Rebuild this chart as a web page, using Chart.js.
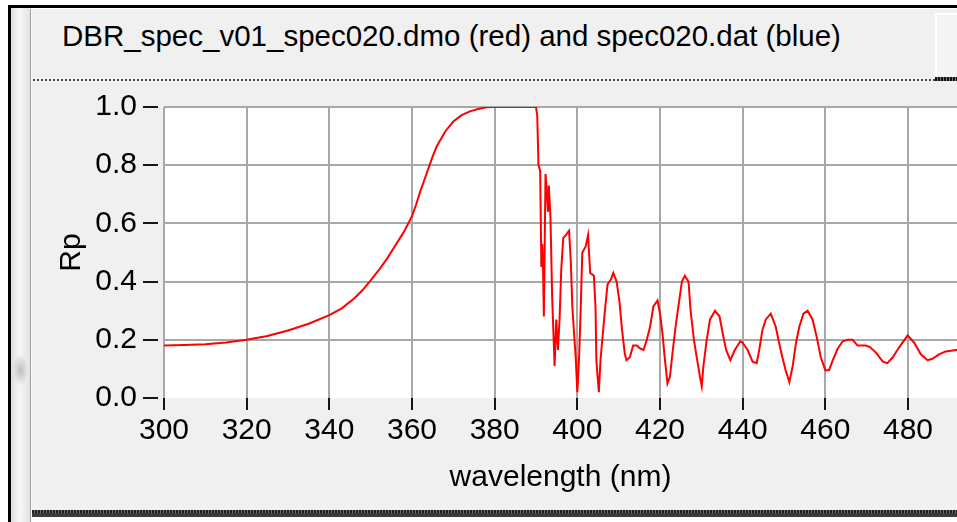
<!DOCTYPE html>
<html>
<head>
<meta charset="utf-8">
<script src="https://cdn.jsdelivr.net/npm/chart.js@4/dist/chart.umd.min.js"></script>
<style>
  html, body { margin:0; padding:0; }
  body { width:957px; height:522px; overflow:hidden; background:#fff; position:relative; font-family:'Liberation Sans', Arial, sans-serif; }
  .abs { position:absolute; }
  #topBlack { left:8px; top:5px; width:960px; height:3px; background:#000; }
  #leftBlack { left:8px; top:5px; width:3px; height:520px; background:#000; }
  #strip { left:11px; top:8px; width:19px; height:520px;
    background:linear-gradient(90deg,#dcdcdc 0%,#f6f6f6 45%,#e4e4e4 100%); }
  #stripGrip { left:13px; top:355px; width:15px; height:30px;
    background:radial-gradient(ellipse at center,#bdbdbd 0%,rgba(220,220,220,0) 75%); }
  #sepLine { left:30px; top:9px; width:1px; height:520px; background:#9c9c9c; }
  #sepLine2 { left:31px; top:9px; width:1px; height:520px; background:#fdfdfd; }
  #panel { left:32px; top:9px; width:930px; height:501px; background:#f0f0f0; }
  #dotted { left:33px; top:79px; width:902px; height:2px;
    background:repeating-linear-gradient(90deg,#4a4a4a 0 2px,rgba(0,0,0,0) 2px 4px); }
  #btn { left:935px; top:13px; width:30px; height:64px; background:#f4f4f4;
    border-left:2px solid #fff; border-top:2px solid #fff; box-sizing:border-box; }
  #btnBottom { left:935px; top:77px; width:30px; height:4px;
    background:repeating-linear-gradient(90deg,#111 0 2px,#777 2px 3px); }
  #bottomBar { left:32px; top:510px; width:930px; height:7px;
    background:repeating-linear-gradient(90deg,#1e1e1e 0 2px,#7a7a7a 2px 3px); }
  #bottomBar2 { left:32px; top:513px; width:930px; height:4px; background:#3a3a3a; }
  #title { left:62px; top:21px; font-size:29.5px; line-height:30px; color:#000; white-space:nowrap; }
  #chartWrap { left:31px; top:82px; width:926px; height:428px; }
</style>
</head>
<body>
<div class="abs" id="panel"></div>
<div class="abs" id="strip"></div>
<div class="abs" id="stripGrip"></div>
<div class="abs" id="sepLine"></div>
<div class="abs" id="sepLine2"></div>
<div class="abs" id="topBlack"></div>
<div class="abs" id="leftBlack"></div>
<div class="abs" id="dotted"></div>
<div class="abs" id="btn"></div>
<div class="abs" id="btnBottom"></div>
<div class="abs" id="bottomBar"></div>
<div class="abs" id="bottomBar2"></div>
<div class="abs" id="title">DBR_spec_v01_spec020.dmo (red) and spec020.dat (blue)</div>
<div class="abs" id="chartWrap"><canvas id="c" width="926" height="428"></canvas></div>
<script>
// ---- data ----
const wavelengths = [
  300, 305, 310, 315, 320, 325, 330, 335, 340, 343, 346, 348, 350, 352, 354, 356, 358, 360,
  361, 362, 363, 364, 365, 366, 367, 368, 370, 372, 374, 376, 378, 380, 385, 390,
  390.3, 390.6, 391.0, 391.3, 391.5, 391.7, 391.9, 392.3, 392.6, 392.9, 393.1, 393.5, 393.9,
  394.5, 394.9, 395.3, 395.7, 396.1, 396.6, 397.2, 398.0, 398.4, 398.8, 399.6, 400.0, 400.4,
  400.8, 401.2, 402.0, 402.6, 403.1, 404.0, 404.4, 404.6, 405.2, 405.6, 406.6, 407.3, 408.2,
  408.7, 409.5, 410.2, 410.8, 411.5, 411.9, 412.7, 413.5, 414.4, 415.2, 416.0, 416.8, 417.6,
  418.4, 419.4, 420.0, 420.6, 421.2, 421.8, 422.4, 423.1, 423.9, 424.7, 425.3, 426.0, 426.9,
  427.4, 428.2, 429.0, 429.7, 430.1, 430.5, 431.3, 432.1, 433.3, 434.4, 435.2, 436.0, 437.0,
  438.1, 439.4, 440.0, 441.2, 442.4, 443.4, 444.0, 444.8, 445.6, 446.8, 448.0, 448.8, 449.6,
  450.4, 451.3, 452.1, 452.9, 453.7, 454.7, 455.7, 456.9, 457.9, 458.9, 460.0, 460.9, 461.8,
  463.0, 464.2, 465.4, 466.6, 467.8, 469.8, 470.8, 472.3, 473.9, 475.0, 476.3, 477.9, 479.9,
  481.5, 483.1, 484.7, 485.9, 487.5, 489.1, 491.6, 493.0
];
const reflectanceRed = [
  0.180, 0.182, 0.185, 0.191, 0.200, 0.213, 0.232, 0.255, 0.285, 0.308, 0.342, 0.370, 0.404, 0.440, 0.480, 0.525, 0.570, 0.625,
  0.665, 0.710, 0.750, 0.790, 0.830, 0.865, 0.890, 0.915, 0.950, 0.972, 0.985, 0.993, 0.999, 1.000, 1.000, 1.000,
  0.970, 0.800, 0.780, 0.450, 0.530, 0.450, 0.280, 0.770, 0.710, 0.640, 0.730, 0.620, 0.350,
  0.110, 0.270, 0.165, 0.270, 0.440, 0.550, 0.560, 0.575, 0.475, 0.310, 0.140, 0.020, 0.130,
  0.300, 0.500, 0.520, 0.560, 0.430, 0.420, 0.310, 0.130, 0.020, 0.130, 0.290, 0.390, 0.410,
  0.430, 0.400, 0.330, 0.235, 0.150, 0.130, 0.140, 0.180, 0.180, 0.170, 0.165, 0.200, 0.245,
  0.315, 0.335, 0.290, 0.220, 0.130, 0.050, 0.073, 0.165, 0.260, 0.340, 0.400, 0.420, 0.400,
  0.300, 0.200, 0.130, 0.070, 0.040, 0.110, 0.200, 0.270, 0.300, 0.280, 0.220, 0.165, 0.130,
  0.165, 0.195, 0.190, 0.165, 0.125, 0.120, 0.165, 0.235, 0.270, 0.290, 0.245, 0.190, 0.140,
  0.095, 0.055, 0.110, 0.190, 0.245, 0.290, 0.300, 0.270, 0.210, 0.140, 0.095, 0.095, 0.130,
  0.170, 0.195, 0.200, 0.200, 0.180, 0.180, 0.175, 0.155, 0.125, 0.120, 0.140, 0.175, 0.215,
  0.190, 0.150, 0.130, 0.135, 0.150, 0.160, 0.165, 0.165
];
const xTickValues = [300, 320, 340, 360, 380, 400, 420, 440, 460, 480];
const yTickValues = [0.0, 0.2, 0.4, 0.6, 0.8, 1.0];
const xAxisTitle = 'wavelength (nm)';
const yAxisTitle = 'Rp';
const seriesLabel = 'DBR_spec_v01_spec020.dmo';

// ---- chart ----
Chart.defaults.font.family = "'Liberation Sans', Arial, sans-serif";
Chart.defaults.font.size = 30;
Chart.defaults.color = '#000';

const GRID = '#a8a8a8';

const plotDecor = {
  id: 'plotDecor',
  beforeDraw(chart) {
    const {ctx, chartArea: a} = chart;
    ctx.save();
    ctx.fillStyle = '#ffffff';
    ctx.fillRect(a.left, a.top, a.right - a.left, a.bottom - a.top);
    ctx.restore();
  },
  afterDraw(chart) {
    const {ctx, chartArea: a, scales: {x, y}} = chart;
    ctx.save();
    ctx.strokeStyle = '#151515';
    ctx.lineWidth = 2;
    x.ticks.forEach(t => {
      const px = Math.round(x.getPixelForValue(t.value));
      ctx.beginPath(); ctx.moveTo(px, a.bottom); ctx.lineTo(px, a.bottom + 12); ctx.stroke();
    });
    y.ticks.forEach(t => {
      const py = Math.round(y.getPixelForValue(t.value));
      ctx.beginPath(); ctx.moveTo(a.left - 21, py); ctx.lineTo(a.left - 6, py); ctx.stroke();
    });
    ctx.restore();
  }
};

new Chart(document.getElementById('c'), {
  type: 'line',
  data: {
    datasets: [{
      label: seriesLabel,
      data: wavelengths.map((w, i) => ({x: w, y: reflectanceRed[i]})),
      borderColor: '#ff0000',
      borderWidth: 2,
      pointRadius: 0,
      tension: 0,
      fill: false
    }]
  },
  options: {
    responsive: false,
    devicePixelRatio: 1,
    animation: false,
    events: [],
    layout: { padding: { top: 25, left: 0, right: 0, bottom: 0 } },
    plugins: { legend: { display: false }, title: { display: false }, tooltip: { enabled: false } },
    scales: {
      x: {
        type: 'linear',
        min: 300,
        max: 491.85,
        afterBuildTicks: s => { s.ticks = xTickValues.map(v => ({value: v})); },
        afterFit: s => { s.height = 112; s.paddingLeft = 0; s.paddingRight = 0; },
        ticks: { padding: 15, autoSkip: false, maxRotation: 0, color: '#000', font: { size: 30 } },
        grid: { color: GRID, lineWidth: 2, drawTicks: false },
        border: { display: false },
        title: { display: true, text: xAxisTitle, color: '#000', font: { size: 30 }, padding: { top: 0, bottom: 14 } }
      },
      y: {
        type: 'linear',
        min: 0,
        max: 1,
        afterBuildTicks: s => { s.ticks = yTickValues.map(v => ({value: v})); },
        afterFit: s => { s.width = 133; s.paddingTop = 0; s.paddingBottom = 0; },
        ticks: { padding: 27, color: '#000', font: { size: 30 }, callback: v => Number(v).toFixed(1) },
        grid: {
          color: c => (c.tick && c.tick.value === 0) ? 'rgba(0,0,0,0)' : GRID,
          lineWidth: 2, drawTicks: false
        },
        border: { display: false },
        title: { display: true, text: yAxisTitle, color: '#000', font: { size: 30 }, padding: { top: 23, bottom: 0 } }
      }
    }
  },
  plugins: [plotDecor]
});
</script>
</body>
</html>
